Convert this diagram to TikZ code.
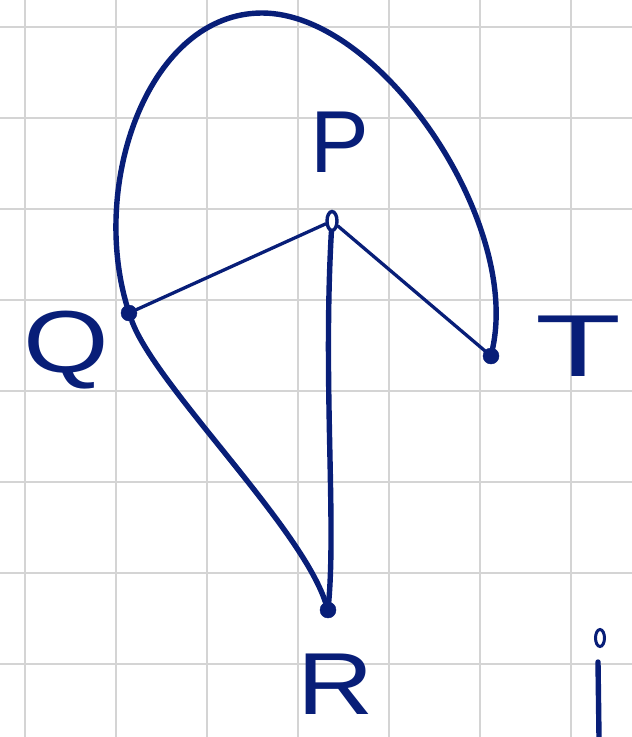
\documentclass[tikz,border=0pt]{standalone}
\usepackage{fontspec}
\setmainfont{Liberation Sans}
\usetikzlibrary{shapes.geometric}
\definecolor{inkblue}{RGB}{8,30,120}
\definecolor{gridgray}{RGB}{212,212,212}
\begin{document}
\begin{tikzpicture}[x=1pt,y=-1pt,
  ink/.style={draw=inkblue, line cap=round, line join=round},
  heavy/.style={ink, line width=5.4pt},
  light/.style={ink, line width=3.3pt},
  vtx/.style={circle, fill=inkblue, draw=inkblue, inner sep=0pt, minimum size=16pt},
  hollowvtx/.style={ellipse, draw=inkblue, fill=white, line width=3.4pt, inner sep=0pt, minimum width=10pt, minimum height=19pt},
  lbl/.style={text=inkblue, inner sep=0pt, font=\fontsize{88}{88}\selectfont}]
\useasboundingbox (0,0) rectangle (632,737);
\fill[white] (0,0) rectangle (632,737);
\foreach \i in {0,...,6} \draw[gridgray, line width=2.4pt] ({25+91*\i},0) -- ({25+91*\i},737);
\foreach \j in {0,...,7} \draw[gridgray, line width=2.4pt] (0,{27+91*\j}) -- (632,{27+91*\j});

% vertices
\node[vtx] (Q) at (129,313) {};
\node[vtx] (T) at (491,356) {};
\node[vtx] (R) at (328,610) {};
\node[hollowvtx] (P) at (332,221) {};
\coordinate (top) at (262,13);

% labels
\node[lbl] (Plbl) at (340,142) {P};
\node[lbl, xscale=1.25] (Qlbl) at (66,350) {Q};
\node[lbl, xscale=1.6] (Tlbl) at (578,346) {T};
\node[lbl, xscale=1.2] (Rlbl) at (336,684) {R};

% edges
\draw[light] (Q) -- (P);
\draw[light] (P) -- (T);
\draw[heavy] (P) .. controls (323,380) and (336,520) .. (R);
\draw[heavy] (Q) .. controls (155,385) and (300,525) .. (R);
\draw[heavy] (Q) .. controls (90,180) and (150,13) .. (top)
             .. controls (380,13) and (520,220) .. (T);

% partial mark at lower right
\node[ellipse, draw=inkblue, line width=3pt, inner sep=0pt, minimum width=9pt, minimum height=17pt] (idot) at (600,638) {};
\coordinate (istemtop) at (598,662);
\coordinate (istembot) at (599,737);
\draw[heavy] (istemtop) -- (istembot);
\end{tikzpicture}
\end{document}
